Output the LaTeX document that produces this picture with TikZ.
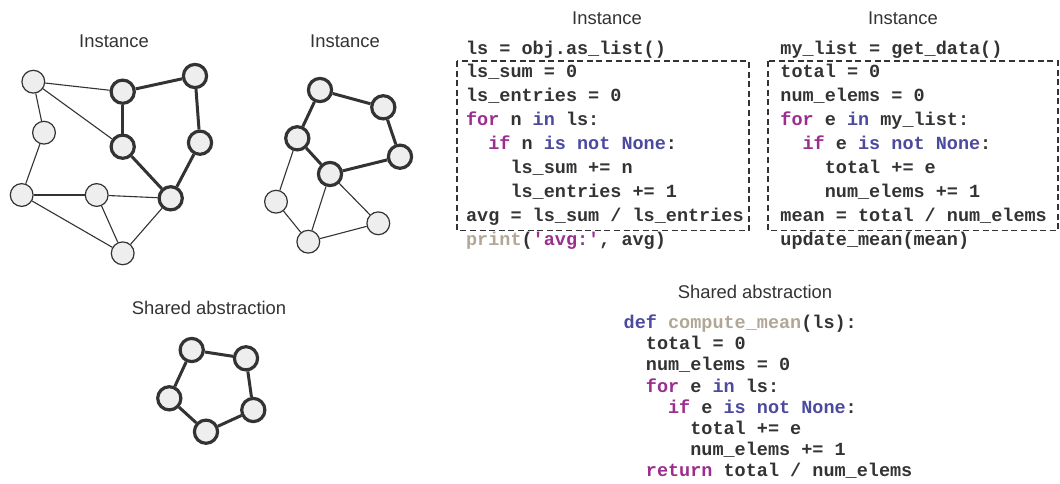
\documentclass[tikz,border=0pt]{standalone}
\usepackage{fontspec}
\setmainfont{Liberation Sans}
\setmonofont{Liberation Mono}
\usepackage{xcolor}
\usetikzlibrary{positioning}
\definecolor{ink}{HTML}{333333}
\definecolor{kwflow}{HTML}{9B2D8E}
\definecolor{kwop}{HTML}{4B4A9F}
\definecolor{kwname}{HTML}{B2A796}
\definecolor{nodefill}{HTML}{EEEEEE}
\newcommand\Kf[1]{\textcolor{kwflow}{#1}}
\newcommand\Ko[1]{\textcolor{kwop}{#1}}
\newcommand\Kn[1]{\textcolor{kwname}{#1}}
\newcommand\Tab{11.1}
\tikzset{
  vertex/.style={
    shape = circle,
    draw = ink,
    fill = nodefill,
    line width = 0.6pt,
    minimum size = 11.4pt,
    inner sep = 0pt
  },
  hub/.style={
    vertex,
    line width = 1.6pt,
    minimum size = 11.6pt
  },
  link/.style={
    draw = ink,
    line width = 0.55pt
  },
  bond/.style={
    draw = ink,
    line width = 1.5pt
  },
  caption/.style={
    font = \fontsize{9.2}{11}\selectfont,
    text = ink,
    inner sep = 0pt
  },
  code/.style={
    font = \ttfamily\bfseries\fontsize{9.25}{11}\selectfont,
    text = ink,
    anchor = base west,
    inner sep = 0pt
  },
  frame/.style={
    draw = ink,
    line width = 0.7pt,
    dash pattern = on 3pt off 1.8pt
  }
}

\begin{document}
\begin{tikzpicture}[x=0.5pt,y=-0.5pt]
    \useasboundingbox (0,0) rectangle (1060,483);

    % first instance graph
    \node[caption] (capA) at (114,41) {Instance};
    \node[vertex] (a) at (33.3,81.7) {};
    \node[vertex] (b) at (44,132.7) {};
    \node[vertex] (c) at (21.7,195) {};
    \node[vertex] (d) at (96.7,195) {};
    \node[vertex] (e) at (122.7,253.3) {};
    \node[hub] (f) at (122.7,91.7) {};
    \node[hub] (g) at (195,76) {};
    \node[hub] (h) at (122.7,146.7) {};
    \node[hub] (i) at (200,142.7) {};
    \node[hub] (j) at (170.7,198.3) {};

    \draw[link] (a) -- (f);
    \draw[link] (a) -- (h);
    \draw[link] (a) -- (b);
    \draw[link] (b) -- (c);
    \draw[link] (c) -- (d);
    \draw[link] (c) -- (e);
    \draw[link] (d) -- (j);
    \draw[link] (d) -- (e);
    \draw[link] (e) -- (j);
    \draw[bond] (f) -- (g);
    \draw[bond] (f) -- (h);
    \draw[bond] (g) -- (i);
    \draw[bond] (h) -- (j);
    \draw[bond] (i) -- (j);

    % second instance graph
    \node[caption] (capB) at (345,41) {Instance};
    \node[hub] (p1) at (320,90) {};
    \node[hub] (p2) at (383.3,107.3) {};
    \node[hub] (p3) at (400,156.7) {};
    \node[hub] (p4) at (330,174) {};
    \node[hub] (p5) at (297.3,138.3) {};
    \node[vertex] (q1) at (276,201.7) {};
    \node[vertex] (q2) at (308.3,241.7) {};
    \node[vertex] (q3) at (378.3,223.3) {};

    \draw[bond] (p1) -- (p2);
    \draw[bond] (p2) -- (p3);
    \draw[bond] (p3) -- (p4);
    \draw[bond] (p4) -- (p5);
    \draw[bond] (p5) -- (p1);
    \draw[link] (p5) -- (q1);
    \draw[link] (q1) -- (q2);
    \draw[link] (q2) -- (p4);
    \draw[link] (p4) -- (q3);
    \draw[link] (q3) -- (q2);

    % shared abstraction graph
    \node[caption] (capC) at (209,308) {Shared abstraction};
    \node[hub] (s1) at (191.7,350) {};
    \node[hub] (s2) at (246,358.3) {};
    \node[hub] (s3) at (253.3,410) {};
    \node[hub] (s4) at (206,431.7) {};
    \node[hub] (s5) at (169.3,398.3) {};

    \draw[bond] (s1) -- (s2);
    \draw[bond] (s2) -- (s3);
    \draw[bond] (s3) -- (s4);
    \draw[bond] (s4) -- (s5);
    \draw[bond] (s5) -- (s1);

    % first instance code
    \node[caption] (capD) at (607,18) {Instance};
    \draw[frame] (457,61) rectangle (749,230.5);
    \node[code] (l1) at (465.7,54) {ls = obj.as\_list()};
    \node[code] (l2) at (465.7,77.9) {ls\_sum = 0};
    \node[code] (l3) at (465.7,101.8) {ls\_entries = 0};
    \node[code] (l4) at (465.7,125.7) {\Kf{for} n \Ko{in} ls:};
    \node[code] (l5) at (465.7+2*\Tab,149.6) {\Kf{if} n \Ko{is not None}:};
    \node[code] (l6) at (465.7+4*\Tab,173.5) {ls\_sum += n};
    \node[code] (l7) at (465.7+4*\Tab,197.4) {ls\_entries += 1};
    \node[code] (l8) at (465.7,221.3) {avg = ls\_sum / ls\_entries};
    \node[code] (l9) at (465.7,245.2) {\Kn{print}(\Kf{\textquotesingle avg:\textquotesingle}, avg)};

    % second instance code
    \node[caption] (capE) at (903,18) {Instance};
    \draw[frame] (768,61) rectangle (1058,230.5);
    \node[code] (m1) at (780,54) {my\_list = get\_data()};
    \node[code] (m2) at (780,77.9) {total = 0};
    \node[code] (m3) at (780,101.8) {num\_elems = 0};
    \node[code] (m4) at (780,125.7) {\Kf{for} e \Ko{in} my\_list:};
    \node[code] (m5) at (780+2*\Tab,149.6) {\Kf{if} e \Ko{is not None}:};
    \node[code] (m6) at (780+4*\Tab,173.5) {total += e};
    \node[code] (m7) at (780+4*\Tab,197.4) {num\_elems += 1};
    \node[code] (m8) at (780,221.3) {mean = total / num\_elems};
    \node[code] (m9) at (780,245.2) {update\_mean(mean)};

    % shared abstraction code
    \node[caption] (capF) at (755,292) {Shared abstraction};
    \node[code] (r0) at (623.3,328.5) {\Ko{def} \Kn{compute\_mean}(ls):};
    \node[code] (r1) at (623.3+2*\Tab,349.7) {total = 0};
    \node[code] (r2) at (623.3+2*\Tab,370.9) {num\_elems = 0};
    \node[code] (r3) at (623.3+2*\Tab,392.1) {\Kf{for} e \Ko{in} ls:};
    \node[code] (r4) at (623.3+4*\Tab,413.3) {\Kf{if} e \Ko{is not None}:};
    \node[code] (r5) at (623.3+6*\Tab,434.5) {total += e};
    \node[code] (r6) at (623.3+6*\Tab,455.7) {num\_elems += 1};
    \node[code] (r7) at (623.3+2*\Tab,476.9) {\Kf{return} total / num\_elems};
\end{tikzpicture}
\end{document}
